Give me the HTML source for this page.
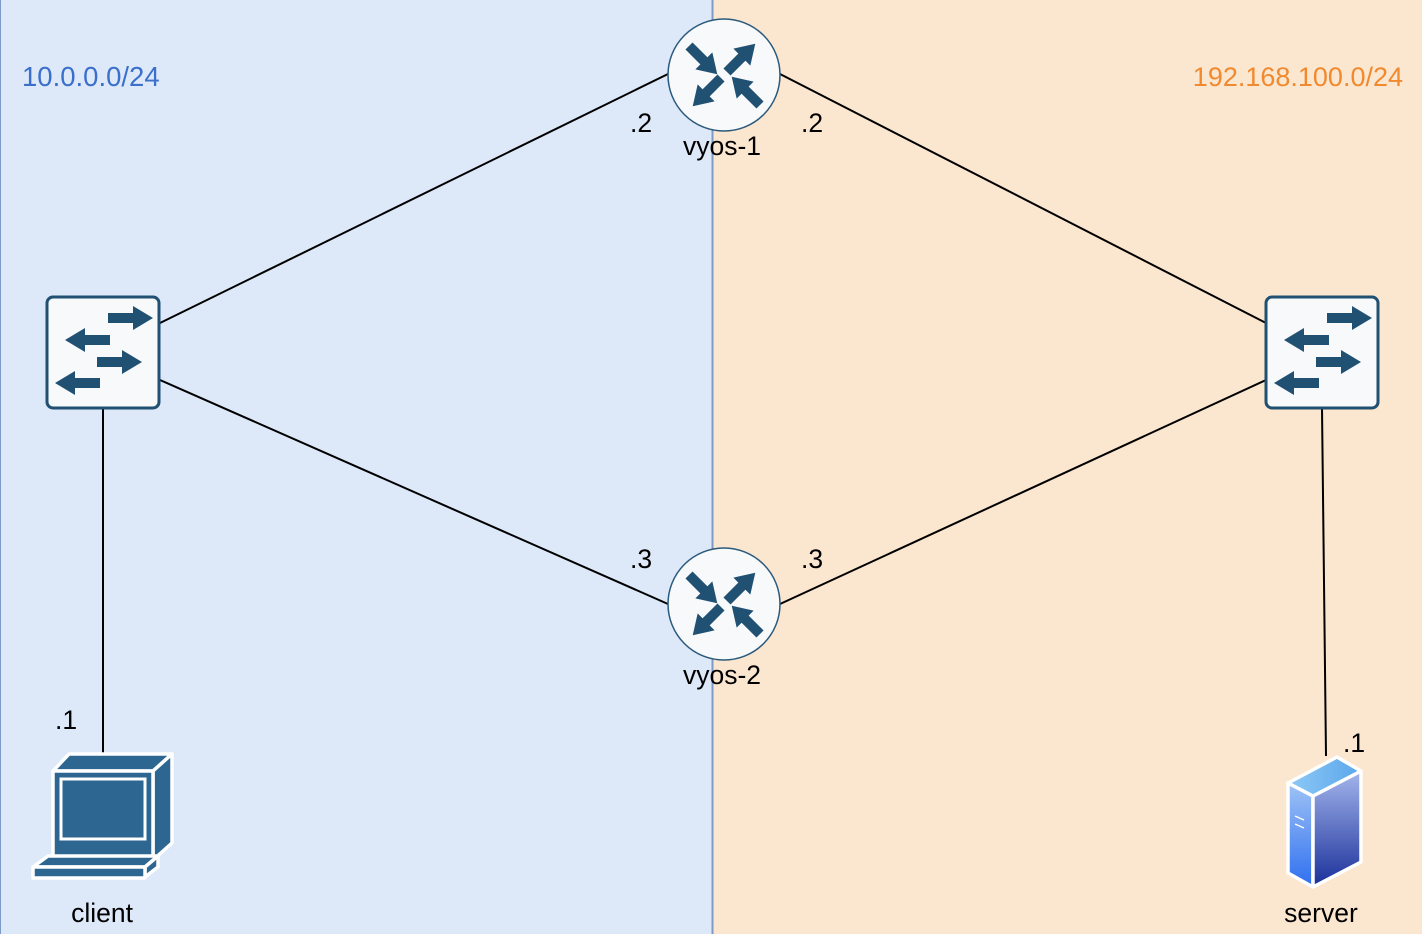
<!DOCTYPE html>
<html><head><meta charset="utf-8"><style>html,body{margin:0;padding:0;}svg{display:block;}text{font-family:"Liberation Sans",sans-serif;}</style></head><body>
<svg width="1422" height="934" viewBox="0 0 1422 934" xmlns="http://www.w3.org/2000/svg">
<defs>
<g id="ra"><rect x="0" y="-5" width="24" height="10" fill="#215172"/><polygon points="21,-12 40,0 21,12" fill="#215172"/></g>
<g id="sa"><rect x="0" y="-5" width="28" height="10" fill="#215172"/><polygon points="25,-12 45,0 25,12" fill="#215172"/></g>
<g id="router">
<circle cx="0" cy="0" r="56" fill="#f8f9fb" stroke="#2b5a7c" stroke-width="1.5"/>
<use href="#ra" transform="translate(-35,-29) rotate(45)"/>
<use href="#ra" transform="translate(3,-3) rotate(-45)"/>
<use href="#ra" transform="translate(-3,3) rotate(135)"/>
<use href="#ra" transform="translate(36,30) rotate(-135)"/>
</g>
<g id="switch">
<rect x="0" y="0" width="112" height="111" rx="6" fill="#f8f9fb" stroke="#215172" stroke-width="3"/>
<use href="#sa" transform="translate(61,21)"/>
<use href="#sa" transform="translate(63,43) rotate(180)"/>
<use href="#sa" transform="translate(50,65)"/>
<use href="#sa" transform="translate(53,86) rotate(180)"/>
</g>
<linearGradient id="sg1" x1="0" y1="0" x2="0" y2="1"><stop offset="0" stop-color="#9fc3f5"/><stop offset="1" stop-color="#2f6ff0"/></linearGradient>
<linearGradient id="sg2" x1="0" y1="0" x2="0" y2="1"><stop offset="0" stop-color="#a4b6ec"/><stop offset="1" stop-color="#1a2f9a"/></linearGradient>
<linearGradient id="sg3" x1="0" y1="0" x2="1" y2="0"><stop offset="0" stop-color="#8ec9f5"/><stop offset="1" stop-color="#5aa6ec"/></linearGradient>
</defs>
<rect x="0" y="0" width="712" height="934" fill="#dde8f9"/>
<rect x="712" y="0" width="710" height="934" fill="#fbe6cf"/>
<line x1="712.5" y1="0" x2="712.5" y2="934" stroke="#7d9bc8" stroke-width="2"/>
<line x1="0.5" y1="0" x2="0.5" y2="934" stroke="#7d9bc8" stroke-width="1"/>
<g stroke="#000" stroke-width="2" fill="none">
<line x1="668" y1="74" x2="160" y2="323"/>
<line x1="160" y1="380" x2="668" y2="604"/>
<line x1="780" y1="74" x2="1266" y2="323"/>
<line x1="1266" y1="380" x2="780" y2="604"/>
<line x1="103" y1="408" x2="103" y2="754"/>
<line x1="1322" y1="408" x2="1326" y2="756"/>
</g>
<use href="#router" transform="translate(724,75)"/>
<use href="#router" transform="translate(724,604)"/>
<use href="#switch" transform="translate(47,297)"/>
<use href="#switch" transform="translate(1266,297)"/>
<g stroke="#fff" stroke-width="3.5" stroke-linejoin="round" fill="#2d6690">
<polygon points="53,771 69,754 172,754 153,771"/>
<polygon points="153,771 172,754 172,843 153,860"/>
<rect x="53" y="771" width="100" height="89"/>
<polygon points="33,867 48,856 158,856 145,867"/>
<polygon points="145,867 158,856 158,867 145,877"/>
<rect x="33" y="867" width="112" height="11"/>
</g>
<rect x="61" y="779" width="84" height="60" fill="none" stroke="#fff" stroke-width="3"/>
<g stroke="#fff" stroke-width="3.5" stroke-linejoin="round">
<polygon points="1288,783 1313,796 1313,887 1288,873" fill="url(#sg1)"/>
<polygon points="1313,796 1361,771 1361,862 1313,887" fill="url(#sg2)"/>
<polygon points="1288,783 1337,757 1361,771 1313,796" fill="url(#sg3)"/>
</g>
<line x1="1295" y1="816" x2="1304" y2="820" stroke="#fff" stroke-width="1.5"/>
<line x1="1295" y1="824" x2="1304" y2="828" stroke="#fff" stroke-width="1.5"/>
<g font-size="26.5" fill="#000">
<text x="22" y="86" fill="#3a6fcc" font-size="27.5">10.0.0.0/24</text>
<text x="1403" y="86" fill="#f18a2f" text-anchor="end" font-size="27">192.168.100.0/24</text>
<text x="630" y="132">.2</text>
<text x="801" y="132">.2</text>
<text x="722" y="155" text-anchor="middle">vyos-1</text>
<text x="630" y="568">.3</text>
<text x="801" y="568">.3</text>
<text x="722" y="684" text-anchor="middle">vyos-2</text>
<text x="55" y="729">.1</text>
<text x="1343" y="752">.1</text>
<text x="102" y="922" text-anchor="middle">client</text>
<text x="1321" y="922" text-anchor="middle">server</text>
</g>
</svg>
</body></html>
